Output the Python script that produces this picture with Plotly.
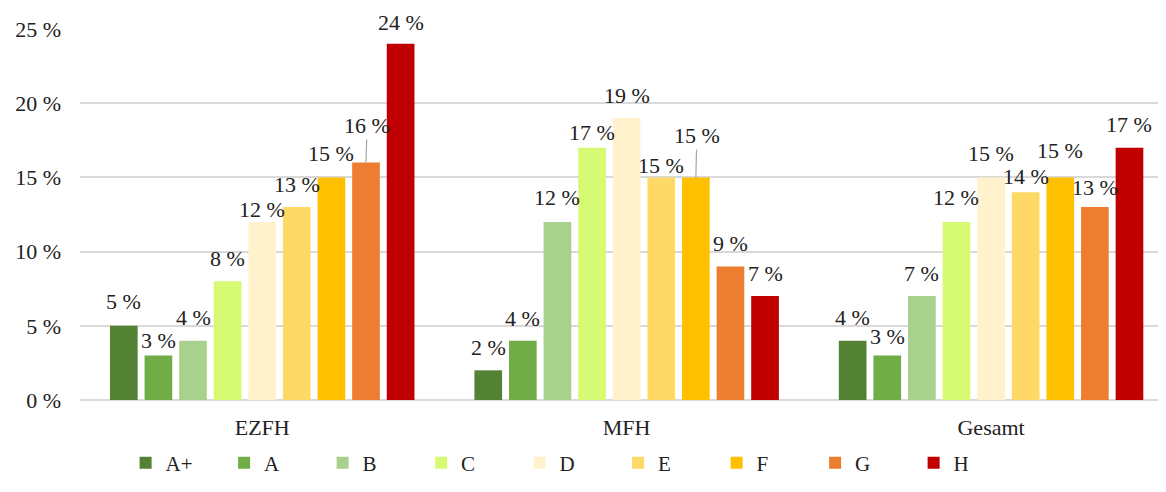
import plotly.graph_objects as go

categories = ["EZFH", "MFH", "Gesamt"]
classes = ["A+", "A", "B", "C", "D", "E", "F", "G", "H"]
values = {
    "A+": [5, 2, 4],
    "A": [3, 4, 3],
    "B": [4, 12, 7],
    "C": [8, 17, 12],
    "D": [12, 19, 15],
    "E": [13, 15, 14],
    "F": [15, 15, 15],
    "G": [16, 9, 13],
    "H": [24, 7, 17],
}
colors = ["#548235", "#70AD47", "#A9D18E", "#D6FA74", "#FFF2CC",
          "#FFD966", "#FFC000", "#ED7D31", "#C00000"]
ytick_vals = [0, 5, 10, 15, 20, 25]
ytick_text = ["0 %", "5 %", "10 %", "15 %", "20 %", "25 %"]

# label lift above bar top (px) per category / class, and leader-line flags
label_lift = [
    [24, 15, 23, 23, 12, 23, 24, 37, 21],
    [23, 22, 24, 15, 23, 12, 42, 23, 23],
    [23, 19, 23, 24, 24, 16, 27, 20, 23],
]
leader = {(0, 7), (1, 6)}

FONT = "serif"
TXT = "#222222"
BARGAP = 0.1455
GROUPGAP = 0.2

fig = go.Figure()
for k, cls in enumerate(classes):
    fig.add_trace(go.Bar(
        name=cls, x=categories, y=values[cls],
        marker=dict(color=colors[k], line=dict(width=0)),
    ))

n = len(classes)
annotations = []
for ci, cat in enumerate(categories):
    for k, cls in enumerate(classes):
        v = values[cls][ci]
        xpos = ci + (k - (n - 1) / 2) * (1 - BARGAP) / n
        lift = label_lift[ci][k]
        if (ci, k) in leader:
            annotations.append(dict(
                x=xpos, y=v, xref="x", yref="y", text=f"{v} %",
                showarrow=True, arrowhead=0, arrowwidth=1.2,
                arrowcolor="#A6A6A6", ax=1, ay=-lift,
                font=dict(family=FONT, size=22, color=TXT),
            ))
        else:
            annotations.append(dict(
                x=xpos, y=v, xref="x", yref="y", text=f"{v} %",
                showarrow=False, yshift=lift, yanchor="middle",
                font=dict(family=FONT, size=22, color=TXT),
            ))

fig.update_layout(
    width=1158, height=484,
    margin=dict(l=72, r=0, t=21, b=92),
    paper_bgcolor="white", plot_bgcolor="white",
    barmode="group", bargap=BARGAP, bargroupgap=GROUPGAP,
    font=dict(family=FONT, size=22, color=TXT),
    annotations=annotations,
    xaxis=dict(
        type="category", range=[-0.5, 2.48], showgrid=False,
        showline=False, ticks="", ticklabelstandoff=12,
        tickfont=dict(family=FONT, size=22, color=TXT),
    ),
    yaxis=dict(
        range=[0, 25], tickmode="array", tickvals=ytick_vals,
        ticktext=ytick_text,
        showgrid=True, gridcolor="#D9D9D9", gridwidth=1.5,
        zeroline=True, zerolinecolor="#D9D9D9", zerolinewidth=1.5,
        showline=False, ticks="", ticklabelstandoff=18,
        tickfont=dict(family=FONT, size=22, color=TXT),
    ),
    legend=dict(
        orientation="h", x=0.042, xanchor="left", y=-0.115, yanchor="top",
        entrywidth=53.5, font=dict(family=FONT, size=21, color=TXT),
        itemwidth=30, traceorder="normal",
    ),
)

fig.write_html("out.html")
